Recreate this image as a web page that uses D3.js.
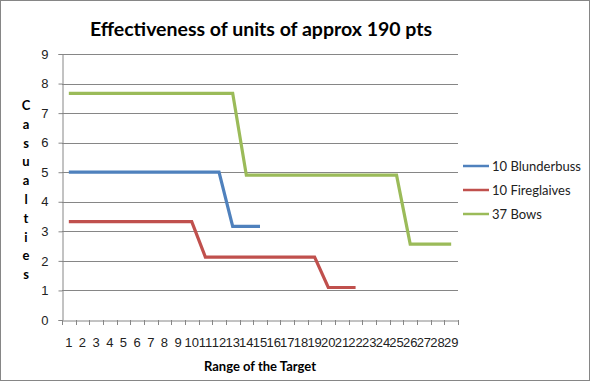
<!DOCTYPE html>
<html>
<head>
<meta charset="utf-8">
<script src="https://cdn.jsdelivr.net/npm/d3@7"></script>
<style>
  body { margin: 0; background: #fff; }
  svg { display: block; font-family: Lato, 'Open Sans', sans-serif; }
</style>
</head>
<body>
<div id="chart"></div>
<script>
const ranges = d3.range(1, 30);
const blunderbuss = [5, 5, 5, 5, 5, 5, 5, 5, 5, 5, 5, 5, 3.17, 3.17, 3.17];
const fireglaives = [3.33, 3.33, 3.33, 3.33, 3.33, 3.33, 3.33, 3.33, 3.33, 3.33,
  2.13, 2.13, 2.13, 2.13, 2.13, 2.13, 2.13, 2.13, 2.13, 1.1, 1.1, 1.1];
const bows = [7.67, 7.67, 7.67, 7.67, 7.67, 7.67, 7.67, 7.67, 7.67, 7.67, 7.67, 7.67, 7.67,
  4.9, 4.9, 4.9, 4.9, 4.9, 4.9, 4.9, 4.9, 4.9, 4.9, 4.9, 4.9,
  2.57, 2.57, 2.57, 2.57];
const yTicks = d3.range(0, 10);

const series = [
  { name: '10 Blunderbuss', values: blunderbuss, color: '#4F81BD' },
  { name: '10 Fireglaives', values: fireglaives, color: '#C0504D' },
  { name: '37 Bows', values: bows, color: '#9BBB59' },
];

const width = 590;
const height = 381;
const margin = { top: 54, right: 132, bottom: 61, left: 62 };
const innerW = width - margin.left - margin.right;
const innerH = height - margin.top - margin.bottom;

const svg = d3
  .select('#chart')
  .append('svg')
  .attr('width', width)
  .attr('height', height);

svg
  .append('rect')
  .attr('x', 0.5)
  .attr('y', 0.5)
  .attr('width', width - 1)
  .attr('height', height - 1)
  .attr('fill', '#fff')
  .attr('stroke', '#868686');

const g = svg
  .append('g')
  .attr('transform', 'translate(' + margin.left + ',' + margin.top + ')');

const x = d3.scaleBand().domain(ranges).range([0, innerW]);
const y = d3.scaleLinear().domain([0, 9]).range([innerH, 0]);

// gridlines
g.selectAll('.grid')
  .data(yTicks.slice(1))
  .enter()
  .append('line')
  .attr('x1', 0)
  .attr('x2', innerW)
  .attr('y1', (d) => Math.round(y(d)) + 0.5)
  .attr('y2', (d) => Math.round(y(d)) + 0.5)
  .attr('stroke', '#868686');

// y axis
const yAxis = g
  .append('g')
  .attr('transform', 'translate(0.5,0)')
  .call(d3.axisLeft(y).tickValues(yTicks).tickSize(4).tickPadding(10).tickFormat(d3.format('d')));
yAxis.select('.domain').attr('stroke', '#868686');
yAxis.selectAll('.tick line').attr('stroke', '#868686');
yAxis.selectAll('text').style('font-size', '13px').attr('fill', '#222');

// x axis
const xAxis = g
  .append('g')
  .attr('transform', 'translate(0,' + (Math.round(innerH) + 0.5) + ')')
  .call(d3.axisBottom(x).tickSize(0).tickPadding(17));
xAxis.select('.domain').attr('stroke', '#868686');
xAxis.selectAll('text').style('font-size', '13px').attr('fill', '#222');

g.append('g')
  .selectAll('line')
  .data(ranges.concat([30]))
  .enter()
  .append('line')
  .attr('x1', (d) => Math.round(d === 30 ? innerW : x(d)) + 0.5)
  .attr('x2', (d) => Math.round(d === 30 ? innerW : x(d)) + 0.5)
  .attr('y1', innerH)
  .attr('y2', innerH + 5)
  .attr('stroke', '#868686');

// lines
const line = d3
  .line()
  .x((d, i) => x(ranges[i]) + x.bandwidth() / 2)
  .y((d) => y(d));

g.selectAll('.series')
  .data(series)
  .enter()
  .append('path')
  .attr('fill', 'none')
  .attr('stroke', (d) => d.color)
  .attr('stroke-width', 3.2)
  .attr('d', (d) => line(d.values));

// title
svg
  .append('text')
  .attr('x', 261)
  .attr('y', 36)
  .attr('text-anchor', 'middle')
  .style('font-size', '19.5px')
  .style('font-weight', 'bold')
  .text('Effectiveness of units of approx 190 pts');

// y label stacked letters
svg
  .append('g')
  .selectAll('text')
  .data('Casualties'.split(''))
  .enter()
  .append('text')
  .attr('x', 26)
  .attr('y', (d, i) => 110 + i * 18.8)
  .attr('text-anchor', 'middle')
  .style('font-size', '13px')
  .style('font-weight', 'bold')
  .text((d) => d);

// x label
svg
  .append('text')
  .attr('x', margin.left + innerW / 2)
  .attr('y', 371)
  .attr('text-anchor', 'middle')
  .style('font-size', '13px')
  .style('font-weight', 'bold')
  .text('Range of the Target');

// legend
const legend = svg
  .append('g')
  .selectAll('g')
  .data(series)
  .enter()
  .append('g')
  .attr('transform', (d, i) => 'translate(463,' + (166 + i * 24) + ')');

legend
  .append('line')
  .attr('x1', 0)
  .attr('x2', 26)
  .attr('stroke', (d) => d.color)
  .attr('stroke-width', 2.5);

legend
  .append('text')
  .attr('x', 29)
  .attr('dy', '0.35em')
  .style('font-size', '13px')
  .attr('fill', '#222')
  .text((d) => d.name);
</script>
</body>
</html>
